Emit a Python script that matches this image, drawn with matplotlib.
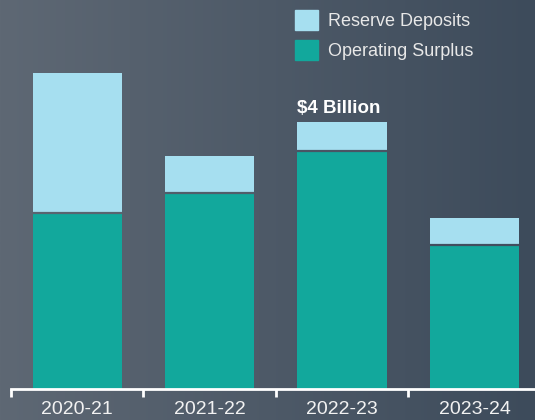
import numpy as np
import matplotlib
matplotlib.use("Agg")
import matplotlib.pyplot as plt
from matplotlib.colors import LinearSegmentedColormap
from matplotlib.patches import Patch

plt.rcParams['font.family'] = ['Liberation Sans', 'DejaVu Sans']

# data (billions)
years = ['2020-21', '2021-22', '2022-23', '2023-24']
operating_surplus = [2.64, 2.94, 3.57, 2.16]
reserve_deposits = [2.09, 0.55, 0.43, 0.40]
annotation = '$4 Billion'
annotated_bar = 2

teal = '#12a89c'
light_blue = '#a6dff0'
bg_left = '#5e6874'
bg_right = '#3d4b5b'

fig = plt.figure(figsize=(5.35, 4.2), dpi=100)

# gradient background
bg_ax = fig.add_axes([0, 0, 1, 1], zorder=0)
cmap = LinearSegmentedColormap.from_list('bg', [bg_left, bg_right])
bg_ax.imshow(np.linspace(0, 1, 256).reshape(1, -1), cmap=cmap, aspect='auto',
             extent=[0, 1, 0, 1])
bg_ax.set_axis_off()

ax = fig.add_axes([11 / 535, 31 / 420, 1 - 11 / 535, 389 / 420], zorder=1)
ax.set_facecolor('none')

x = np.arange(len(years))
width = 0.673
ax.bar(x, operating_surplus, width, color=teal, label='Operating Surplus', zorder=2)
ax.bar(x, reserve_deposits, width, bottom=operating_surplus, color=light_blue,
       label='Reserve Deposits', zorder=2)

# thin gap between the two segments, in the local background colour
for xi, s in zip(x, operating_surplus):
    frac = (11 + (xi + 0.5) * 132.3) / 535
    c = cmap(frac)
    ax.hlines(s, xi - width / 2, xi + width / 2, color=c, lw=1.6, zorder=3)

# annotation above the 2022-23 bar
total = operating_surplus[annotated_bar] + reserve_deposits[annotated_bar]
ax.text(annotated_bar - width / 2, total + 0.07, annotation, color='white',
        fontsize=13.5, fontweight='bold', ha='left', va='bottom')

# axis styling
for side in ['top', 'right', 'left']:
    ax.spines[side].set_visible(False)
ax.spines['bottom'].set_color('white')
ax.spines['bottom'].set_linewidth(2)
ax.set_yticks([])
ax.set_xticks(x)
ax.set_xticklabels(years, color='#f2f2f2', fontsize=14)
ax.tick_params(axis='x', which='major', length=0, pad=8.5)
ax.set_xticks(np.arange(-0.5, 3, 1), minor=True)
ax.tick_params(axis='x', which='minor', length=5.5, width=2, color='white',
               direction='out')

ax.set_xlim(-0.5, 3.457)
ax.set_ylim(0, 5.83)

handles = [Patch(color=light_blue), Patch(color=teal)]
labels = ['Reserve Deposits', 'Operating Surplus']
leg = fig.legend(handles, labels, loc='upper left',
                 bbox_to_anchor=(295 / 535, 1 - 10 / 420), frameon=False,
                 fontsize=13, handlelength=1.3, handleheight=1.3,
                 handletextpad=0.55, labelspacing=0.55, borderpad=0,
                 borderaxespad=0)
for t in leg.get_texts():
    t.set_color('#e8e8e8')

fig.savefig('out.png', dpi=100)
